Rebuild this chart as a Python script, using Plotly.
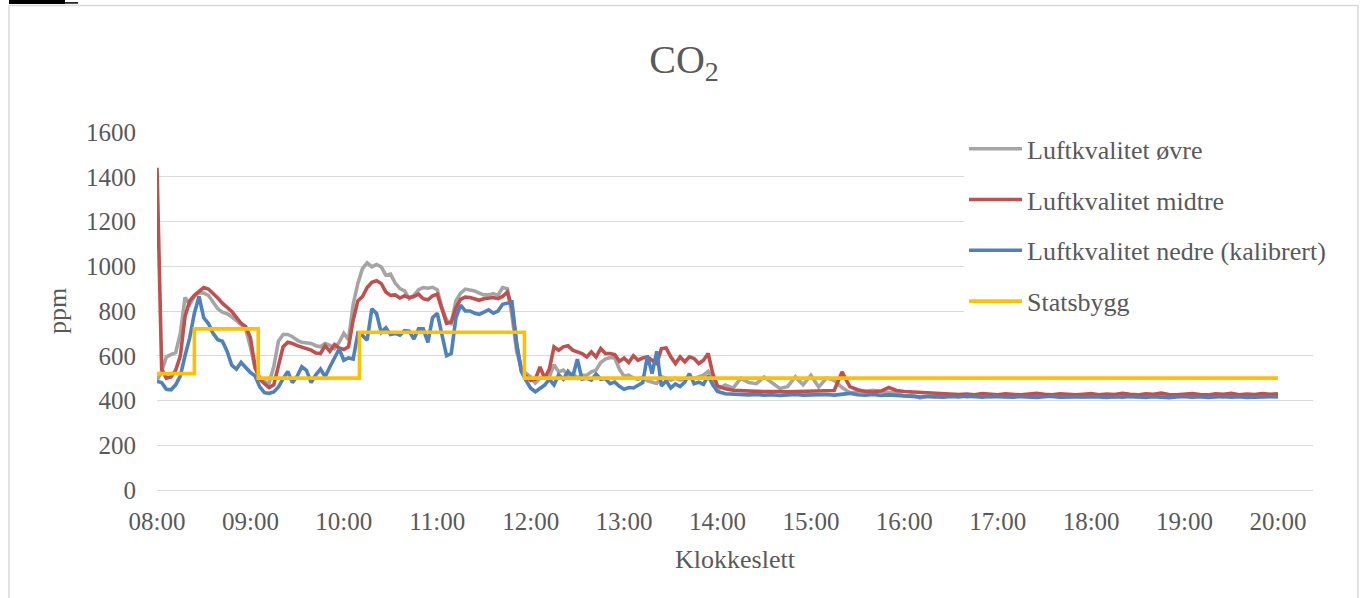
import pandas as pd
import plotly.graph_objects as go

DAY = "2024-01-01 "

# time grid: 3-minute samples 08:00-14:00, 5-minute samples 14:05-20:00
times_fine = pd.date_range(DAY + "08:00", DAY + "14:00", freq="3min")
times_coarse = pd.date_range(DAY + "14:05", DAY + "20:00", freq="5min")
times = list(times_fine) + list(times_coarse)

# Luftkvalitet øvre (grey)
ovre = [
    490, 530, 595, 606, 615, 700, 860, 830, 865, 882,
    880, 870, 840, 810, 795, 788, 774, 759, 740, 718,
    640, 545, 499, 484, 478, 551, 665, 695, 695, 685,
    670, 660, 658, 655, 645, 640, 655, 647, 632, 660,
    700, 672, 830, 923, 990, 1015, 997, 1008, 997, 960,
    965, 925, 900, 890, 855, 870, 895, 905, 902, 906,
    895, 815, 759, 745, 845, 880, 898, 895, 890, 880,
    872, 872, 878, 870, 905, 900, 780, 620, 545, 521,
    505, 478, 499, 506, 506, 560, 528, 536, 513, 521,
    500, 513, 513, 528, 536, 570, 585, 592, 590, 540,
    508, 513, 500, 495, 505, 488, 484, 476, 506, 499,
    491, 499, 491, 499, 506, 499, 506, 513, 530, 500,
    450,
    469, 455, 499, 480, 475, 505, 480, 454, 462, 506, 470, 513,
    460, 500, 490, 458, 435, 440, 445, 446, 440, 438, 432, 420,
    424, 412, 418, 415, 420, 418, 422, 416, 419, 421, 417, 420,
    418, 422, 419, 416, 420, 423, 418, 417, 421, 419, 416, 420,
    419, 421, 417, 420, 418, 416, 421, 419, 417, 420, 422, 418,
    417, 420, 418, 421, 416, 419, 420, 417, 421, 418, 419, 420,
]

# Luftkvalitet midtre (red)
midtre = [
    1440, 540, 500, 505, 535, 600, 775, 845, 870, 890,
    905, 898, 880, 858, 835, 815, 798, 772, 745, 730,
    680, 550, 495, 475, 458, 470, 550, 640, 660, 655,
    645, 638, 630, 625, 612, 610, 645, 620, 650, 635,
    628, 640, 760, 845, 865, 905, 928, 935, 923, 885,
    870, 872, 858, 868, 860, 865, 875, 855, 850, 868,
    875, 815, 745, 750, 815, 852, 862, 860, 855, 848,
    855, 858, 860, 855, 865, 885, 818, 650, 535, 508,
    490, 495, 550, 500, 540, 640, 625, 640, 645, 625,
    617, 610, 595, 617, 595, 632, 610, 610, 605, 575,
    590, 570, 600, 580, 590, 595, 580, 565, 632, 635,
    595, 565, 595, 573, 595, 588, 565, 580, 610, 520,
    465,
    452, 446, 443, 440, 441, 440, 438, 440, 439, 440, 438, 440,
    439, 440, 445, 528, 462, 448, 440, 438, 442, 458, 445, 440,
    438, 434, 432, 430, 428, 430, 427, 429, 426, 431, 428, 426,
    430, 427, 425, 429, 432, 428, 426, 430, 427, 425, 428, 431,
    426, 429, 427, 432, 428, 425, 430, 428, 433, 427, 426, 429,
    431, 427, 425, 430, 428, 432, 426, 429, 427, 431, 428, 430,
]

# Luftkvalitet nedre (kalibrert) (blue)
nedre = [
    485, 480, 450, 448, 470, 510, 600, 680, 790, 865,
    770, 744, 700, 672, 665, 620, 558, 540, 570, 548,
    525, 510, 461, 435, 432, 438, 461, 498, 530, 480,
    508, 551, 535, 480, 515, 540, 506, 550, 590, 630,
    580, 590, 585, 700, 690, 670, 810, 789, 705, 725,
    695, 700, 692, 712, 710, 675, 720, 720, 660, 770,
    790, 690, 600, 610, 770, 826, 800, 800, 790, 785,
    795, 805, 790, 800, 830, 835, 840, 655, 530, 490,
    455, 439, 452, 469, 495, 470, 515, 495, 530, 505,
    585, 495, 499, 491, 518, 495, 498, 475, 482, 463,
    450, 458, 456, 470, 480, 600, 520, 620, 465, 488,
    456, 474, 462, 482, 520, 475, 482, 472, 510, 470,
    440,
    430, 428, 425, 425, 427, 424, 426, 423, 425, 427, 424, 426,
    425, 427, 424, 428, 432, 426, 424, 427, 423, 425, 422, 420,
    418, 416, 419, 417, 415, 418, 416, 420, 417, 415, 418, 416,
    417, 415, 418, 416, 414, 417, 419, 415, 416, 418, 415, 417,
    416, 414, 417, 415, 418, 416, 414, 417, 415, 413, 416, 418,
    415, 417, 414, 416, 418, 415, 417, 414, 416, 415, 417, 416,
]

# Statsbygg (step line)
stats_times = ["08:00", "08:24", "09:05", "10:10", "11:56", "20:00"]
stats_values = [520, 720, 500, 705, 500, 500]

tick_labels = ["08:00", "09:00", "10:00", "11:00", "12:00", "13:00", "14:00",
               "15:00", "16:00", "17:00", "18:00", "19:00", "20:00"]

TXT = "#595959"
GRID = "#D9D9D9"
FONT = "Liberation Serif"

fig = go.Figure()
series = [
    ("Luftkvalitet øvre", times, ovre, "#A5A5A5", "linear"),
    ("Luftkvalitet midtre", times, midtre, "#C0504D", "linear"),
    ("Luftkvalitet nedre (kalibrert)", times, nedre, "#4F81BD", "linear"),
    ("Statsbygg", [pd.Timestamp(DAY + t) for t in stats_times], stats_values, "#FFC000", "hv"),
]
for i, (name, x, y, col, shape) in enumerate(series):
    fig.add_trace(go.Scatter(
        x=x, y=y, name=name, mode="lines", legendgroup=f"g{i}",
        line=dict(color=col, width=3.6, shape=shape),
    ))

fig.update_layout(
    width=1364, height=598,
    margin=dict(l=157, r=51, t=132, b=108),
    paper_bgcolor="white", plot_bgcolor="white",
    font=dict(family=FONT, color=TXT, size=25),
    title=dict(text="CO<sub>2</sub>", font=dict(size=40, color=TXT, family=FONT),
               x=0.5015, xref="container", xanchor="center",
               y=1 - 59 / 598, yref="container", yanchor="middle"),
    legend=dict(x=(964 - 157) / 1156, xanchor="left", y=(490 - 125) / 358.3, yanchor="top",
                bgcolor="white", font=dict(size=26, color=TXT, family=FONT),
                itemwidth=53, tracegroupgap=14, traceorder="grouped"),
    showlegend=True,
    xaxis=dict(
        type="date",
        range=[DAY + "08:00", DAY + "20:22:30"],
        tickvals=[pd.Timestamp(DAY + t) for t in tick_labels],
        ticktext=tick_labels,
        showgrid=False, zeroline=False, showline=False, ticks="",
        ticklabelstandoff=14,
        tickfont=dict(size=25, color=TXT),
        title=dict(text="Klokkeslett", font=dict(size=26, color=TXT), standoff=15),
    ),
    yaxis=dict(
        range=[0, 1600], dtick=200, tick0=0,
        showgrid=True, gridcolor=GRID, gridwidth=1.3,
        zeroline=True, zerolinecolor=GRID, zerolinewidth=1.3,
        showline=False, ticks="", ticklabelstandoff=20,
        tickfont=dict(size=25, color=TXT),
        title=dict(text="ppm", font=dict(size=26, color=TXT), standoff=11),
    ),
    shapes=[
        dict(type="rect", xref="paper", yref="paper",
             x0=(9 - 157) / 1156, x1=(1358 - 157) / 1156,
             y0=(490 - 620) / 358.3, y1=(490 - 5) / 358.3,
             line=dict(color=GRID, width=1.5), fillcolor="rgba(0,0,0,0)", layer="below"),
        dict(type="rect", xref="paper", yref="paper",
             x0=(9 - 157) / 1156, x1=(65 - 157) / 1156,
             y0=(490 - 3.5) / 358.3, y1=(490 + 1) / 358.3,
             line=dict(width=0), fillcolor="black"),
        dict(type="line", xref="paper", yref="paper",
             x0=(65 - 157) / 1156, x1=(78 - 157) / 1156,
             y0=(490 - 2.5) / 358.3, y1=(490 - 2.5) / 358.3,
             line=dict(color="black", width=1.5)),
    ],
)

fig.write_html("out.html")
